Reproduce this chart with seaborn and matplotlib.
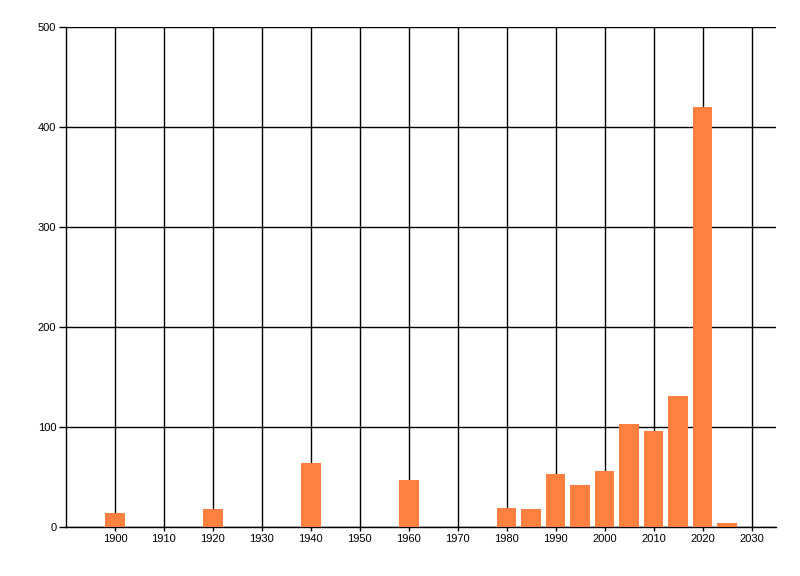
import matplotlib
matplotlib.use("Agg")
import matplotlib.pyplot as plt
import seaborn as sns
import pandas as pd

years = [1900, 1920, 1940, 1960, 1980, 1985, 1990, 1995, 2000, 2005, 2010, 2015, 2020, 2025]
counts = [14, 18, 64, 47, 19, 18, 53, 42, 56, 103, 96, 131, 420, 4]
x_ticks = list(range(1900, 2031, 10))
y_ticks = [0, 100, 200, 300, 400, 500]

sns.set_style("white")
plt.rcParams['font.family'] = ['Liberation Sans', 'DejaVu Sans']

df = pd.DataFrame({"year": years, "count": counts})

fig = plt.figure(figsize=(8, 5.76), dpi=100)
ax = fig.add_axes([66/800, 1-527/576, (776-66)/800, 500/576])
sns.barplot(data=df, x="year", y="count", native_scale=True, width=0.8,
            color="#FF8040", saturation=1, linewidth=0, edgecolor="none",
            ax=ax, zorder=3)

ax.set_xlim(1890, 2035)
ax.set_ylim(0, 500)
ax.set_xticks(x_ticks)
ax.set_xticklabels([str(t) for t in x_ticks])
ax.set_yticks(y_ticks)
ax.set_yticklabels([str(t) for t in y_ticks])
ax.grid(True, color="black", linewidth=1)
ax.set_axisbelow(True)
for s in ["top", "right"]:
    ax.spines[s].set_visible(False)
for s in ["left", "bottom"]:
    ax.spines[s].set_color("black")
    ax.spines[s].set_linewidth(1)
ax.tick_params(axis="both", which="both", width=1, color="black",
               labelsize=8, labelcolor="black", pad=2, left=True, bottom=True)
ax.tick_params(axis="x", length=3)
ax.tick_params(axis="y", length=5)
ax.set_xlabel("")
ax.set_ylabel("")

fig.savefig("out.png", dpi=100)
